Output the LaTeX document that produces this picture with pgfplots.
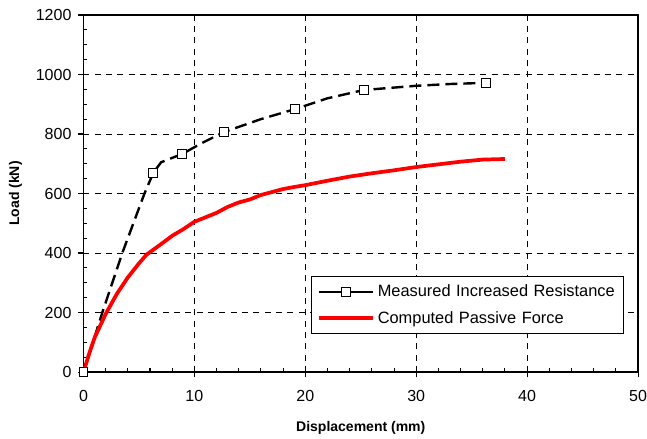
\documentclass[border=0pt]{standalone}
\usepackage{pgfplots}
\pgfplotsset{compat=1.18}
\usepackage{fontspec}
\setmainfont{Liberation Sans}

\begin{document}
\begin{tikzpicture}
\useasboundingbox (-62.6pt,-49.5pt) rectangle (422.6pt,279pt);
\begin{axis}[scale only axis,width=415.9pt,height=267.75pt,
  xmin=0,xmax=50,ymin=0,ymax=1200,
  xtick={0,10,...,50},ytick={0,200,...,1200},
  minor x tick num=4,minor y tick num=3,
  xtick pos=left,ytick pos=left,
  tick align=outside,major tick length=4pt,minor tick length=3pt,
  every minor x tick/.append style={yshift=3pt},
  every minor y tick/.append style={xshift=3pt},
  tick style={black,line width=0.8pt},
  axis line style={line width=1pt},
  grid=major,grid style={black,dash pattern=on 4.5pt off 4pt,line width=0.5pt},
  tick label style={font=\fontsize{12}{13}\selectfont},
  xticklabel style={yshift=-6pt},
  yticklabel style={xshift=-1.5pt},
  /pgf/number format/assume math mode=true,
  /pgf/number format/1000 sep={},
  xlabel={Displacement (mm)},ylabel={Load (kN)},
  every axis x label/.style={at={(axis description cs:0.5,0)},anchor=center,yshift=-42pt,font=\fontsize{10.5}{12}\selectfont\bfseries},
  every axis y label/.style={at={(axis description cs:-0.1226,0.5)},anchor=center,rotate=90,font=\fontsize{10.5}{12}\selectfont\bfseries},
  legend style={at={(0.41,0.269)},anchor=north west,font=\fontsize{12.3}{14}\selectfont,
    draw=black,line width=0.8pt,inner xsep=4pt,inner ysep=4.25pt,row sep=5.5pt,
    text width=178pt,cells={anchor=west}},
  legend image code/.code={\draw[mark repeat=2,mark phase=2,#1] plot coordinates {(0cm,0cm) (0.72cm,0cm) (1.44cm,0cm)};}
]
\addplot[black,line width=1.8pt,dash pattern=on 9pt off 4.5pt,forget plot] coordinates {
(0,0) (1.7,200) (3.5,400) (5.5,600) (6.3,670) (7.0,705) (8.9,733) (10.8,772) (12.7,807) (16,850) (19.1,884) (22,920) (25.3,948) (30,962) (33,968) (36.3,972)};
\addplot[only marks,mark=square*,mark size=3.3pt,mark options={fill=white,draw=black,line width=0.7pt,solid},forget plot] coordinates {
(0,0) (6.3,670) (8.9,733) (12.7,807) (19.1,884) (25.3,948) (36.3,972)};
\addlegendimage{black,line width=1.8pt,mark=square*,mark size=3.3pt,mark options={fill=white,draw=black,line width=0.7pt,solid}}
\addlegendentry{Measured Increased Resistance}
\addplot[red,line width=2.8pt] coordinates {
(0,0) (0.5,60) (1,115) (2,195) (3,262) (4,318) (5,365) (5.7,395) (7,430) (8,458) (9,480) (10,505) (11,520) (12,535) (13,555) (14,570) (15,580) (16,595) (17,605) (18,615) (19,622) (20,628) (22,643) (24,657) (26,668) (28,678) (30,689) (32,698) (34,707) (36,714) (38,716)};
\addlegendentry{Computed Passive Force}
\end{axis}
\end{tikzpicture}
\end{document}
